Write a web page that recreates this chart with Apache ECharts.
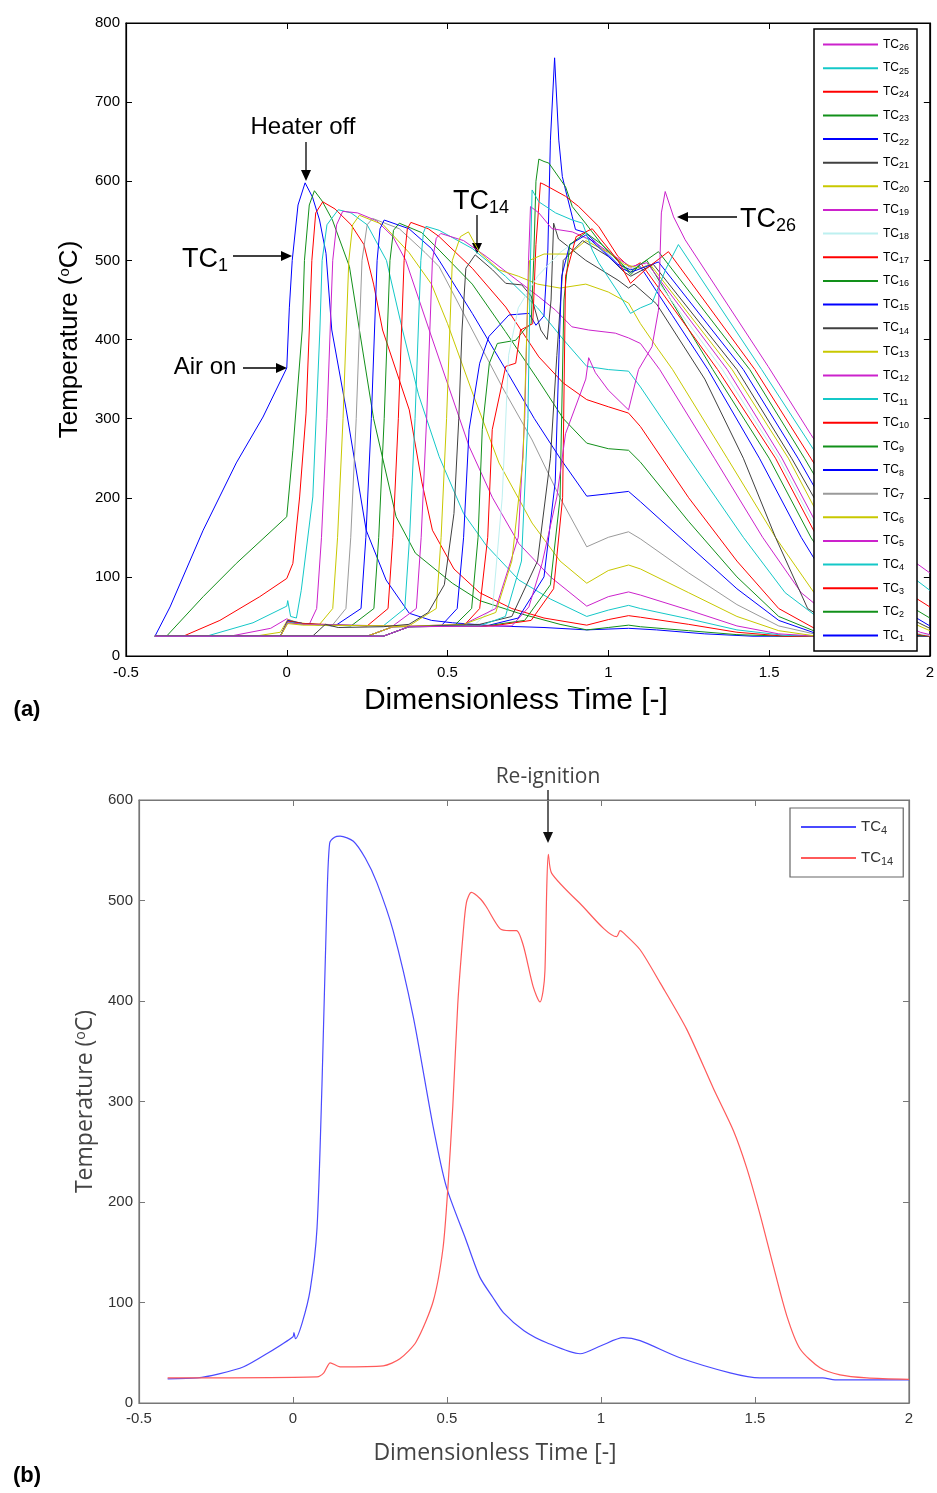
<!DOCTYPE html>
<html>
<head>
<meta charset="utf-8">
<script src="https://cdn.jsdelivr.net/npm/echarts@6/dist/echarts.min.js"></script>
<style>html,body{margin:0;padding:0;background:#fff}#main{width:937px;height:1493px}</style>
</head>
<body>
<div id="main"></div>
<script>
// (a) thermocouple traces, [dimensionless time, temperature]
var tc1 = [[-0.41,25],[-0.363,62],[-0.26,159],[-0.157,244],[-0.074,302],[0,364],[0.008,440],[0.017,500],[0.035,570],[0.057,598],[0.08,580],[0.102,551],[0.122,509],[0.14,412],[0.185,311],[0.247,159],[0.309,96],[0.381,54],[0.45,45],[0.515,42],[0.65,38],[0.8,36],[0.933,33],[1.063,35],[1.15,33],[1.3,28],[1.45,25],[2,25]];
var tc2 = [[-0.41,25],[-0.374,25],[-0.26,75],[-0.157,117],[0,176],[0.019,260],[0.048,412],[0.055,500],[0.07,570],[0.086,588],[0.11,575],[0.142,551],[0.195,492],[0.226,412],[0.27,300],[0.34,176],[0.4,130],[0.515,92],[0.6,70],[0.722,54],[0.85,40],[0.933,33],[1.0,36],[1.063,39],[1.1,37],[1.25,32],[1.4,27],[1.55,25],[2,25]];
var tc3 = [[-0.41,25],[-0.322,25],[-0.208,45],[-0.084,75],[0,98],[0.019,117],[0.04,201],[0.06,307],[0.07,412],[0.078,500],[0.09,560],[0.112,574],[0.15,565],[0.2,545],[0.24,520],[0.27,470],[0.298,412],[0.381,311],[0.42,220],[0.453,159],[0.52,110],[0.6,80],[0.7,60],[0.8,48],[0.933,39],[1.0,46],[1.063,51],[1.1,49],[1.25,40],[1.4,30],[1.55,25],[2,25]];
var tc4 = [[-0.41,25],[-0.25,25],[-0.105,42],[0,63],[0.003,70],[0.012,50],[0.03,48],[0.045,83],[0.081,201],[0.103,412],[0.11,500],[0.125,545],[0.16,564],[0.2,560],[0.25,545],[0.31,500],[0.36,412],[0.41,330],[0.474,252],[0.55,180],[0.62,140],[0.722,96],[0.82,72],[0.933,50],[1.0,58],[1.063,64],[1.1,60],[1.25,47],[1.4,33],[1.55,26],[1.7,25],[2,25]];
var tc5 = [[-0.41,25],[-0.177,25],[-0.05,35],[0,47],[0.03,42],[0.07,40],[0.093,60],[0.108,150],[0.125,300],[0.135,412],[0.143,500],[0.155,545],[0.174,562],[0.22,560],[0.28,550],[0.33,530],[0.37,500],[0.443,412],[0.567,265],[0.64,200],[0.722,142],[0.82,100],[0.933,63],[1.0,75],[1.063,81],[1.1,77],[1.25,58],[1.4,38],[1.53,28],[1.65,25],[2,25]];
var tc6 = [[-0.41,25],[-0.1,25],[-0.02,30],[0.003,46],[0.04,42],[0.1,39],[0.143,60],[0.158,150],[0.175,300],[0.185,412],[0.193,500],[0.205,545],[0.226,557],[0.3,545],[0.38,510],[0.45,470],[0.5,420],[0.58,330],[0.66,244],[0.763,168],[0.85,120],[0.933,92],[1.0,108],[1.063,115],[1.1,110],[1.25,80],[1.4,50],[1.53,32],[1.65,25],[2,25]];
var tc7 = [[-0.41,25],[-0.02,25],[0.003,45],[0.05,41],[0.14,38],[0.184,60],[0.199,150],[0.216,300],[0.226,412],[0.234,500],[0.25,545],[0.267,553],[0.35,540],[0.43,510],[0.474,492],[0.577,412],[0.67,340],[0.763,273],[0.85,200],[0.933,138],[1.0,150],[1.063,157],[1.1,148],[1.25,105],[1.4,65],[1.53,38],[1.65,27],[1.8,25],[2,25]];
var tc8 = [[-0.41,25],[-0.02,25],[0.003,45],[0.05,41],[0.15,38],[0.231,60],[0.246,150],[0.263,300],[0.273,412],[0.281,500],[0.29,540],[0.303,551],[0.38,540],[0.45,515],[0.474,500],[0.577,433],[0.681,362],[0.77,300],[0.85,250],[0.933,202],[1.0,205],[1.063,208],[1.1,195],[1.25,140],[1.4,85],[1.53,45],[1.65,28],[1.8,25],[2,25]];
var tc9 = [[-0.41,25],[-0.02,25],[0.003,44],[0.05,41],[0.2,38],[0.271,60],[0.286,150],[0.303,300],[0.313,412],[0.321,500],[0.332,538],[0.35,547],[0.42,535],[0.474,513],[0.577,470],[0.68,410],[0.78,350],[0.86,300],[0.933,269],[1.0,262],[1.063,260],[1.1,245],[1.25,170],[1.4,100],[1.53,50],[1.65,30],[1.8,25],[2,25]];
var tc10 = [[-0.41,25],[-0.02,25],[0.003,44],[0.05,41],[0.25,38],[0.315,60],[0.33,150],[0.347,300],[0.357,412],[0.365,500],[0.375,540],[0.386,548],[0.44,540],[0.474,530],[0.577,490],[0.681,441],[0.784,378],[0.86,345],[0.933,324],[1.0,315],[1.063,307],[1.1,290],[1.25,200],[1.4,120],[1.53,60],[1.65,33],[1.8,26],[2,25]];
var tc11 = [[-0.41,25],[-0.02,25],[0.003,43],[0.05,40],[0.3,38],[0.367,60],[0.382,150],[0.399,300],[0.409,412],[0.417,500],[0.425,535],[0.433,543],[0.474,538],[0.577,515],[0.68,480],[0.78,440],[0.86,400],[0.933,366],[1.0,362],[1.063,360],[1.1,340],[1.25,250],[1.42,150],[1.55,80],[1.68,40],[1.8,28],[2,25]];
var tc12 = [[-0.41,25],[-0.02,25],[0.003,42],[0.05,40],[0.33,38],[0.403,60],[0.418,150],[0.435,300],[0.445,412],[0.453,500],[0.465,528],[0.479,534],[0.55,525],[0.62,505],[0.7,480],[0.784,454],[0.836,437],[0.887,416],[0.939,412],[1.022,408],[1.063,402],[1.1,395],[1.16,362],[1.33,250],[1.48,150],[1.6,80],[1.72,40],[1.85,28],[2,25]];
var tc13 = [[-0.41,25],[-0.02,25],[0.003,41],[0.05,39],[0.38,38],[0.465,60],[0.48,150],[0.497,300],[0.507,412],[0.515,500],[0.54,530],[0.565,536],[0.6,510],[0.66,488],[0.72,480],[0.78,470],[0.85,465],[0.93,470],[1.0,460],[1.063,446],[1.1,420],[1.156,387],[1.2,362],[1.37,250],[1.52,150],[1.64,80],[1.76,40],[1.88,28],[2,25]];
var tc14 = [[-0.41,25],[0.08,25],[0.12,40],[0.16,36],[0.3,37],[0.38,40],[0.44,55],[0.49,90],[0.52,180],[0.535,300],[0.545,412],[0.557,490],[0.586,507],[0.64,488],[0.681,471],[0.731,469],[0.76,455],[0.79,412],[0.81,400],[0.822,450],[0.83,547],[0.845,527],[0.93,500],[1.03,475],[1.063,465],[1.08,470],[1.15,445],[1.3,350],[1.42,250],[1.52,150],[1.62,60],[1.72,35],[1.85,27],[2,25]];
var tc15 = [[-0.41,25],[0.25,25],[0.33,37],[0.48,38],[0.53,60],[0.55,150],[0.567,286],[0.6,370],[0.629,404],[0.691,431],[0.753,433],[0.775,418],[0.8,430],[0.812,513],[0.82,652],[0.833,756],[0.846,652],[0.857,606],[0.867,589],[0.888,555],[0.898,539],[0.93,535],[0.98,515],[1.03,495],[1.07,488],[1.1,492],[1.2,430],[1.31,362],[1.47,250],[1.6,150],[1.72,70],[1.82,38],[1.92,27],[2,25]];
var tc16 = [[-0.41,25],[0.25,25],[0.33,37],[0.52,38],[0.575,60],[0.595,150],[0.608,286],[0.63,370],[0.655,395],[0.712,399],[0.738,412],[0.76,420],[0.768,500],[0.775,600],[0.784,628],[0.8,625],[0.815,623],[0.867,593],[0.888,568],[0.929,547],[0.98,520],[1.04,495],[1.07,482],[1.1,495],[1.12,500],[1.325,362],[1.5,250],[1.63,150],[1.74,80],[1.85,40],[1.95,27],[2,25]];
var tc17 = [[-0.41,25],[0.25,25],[0.33,37],[0.55,38],[0.6,60],[0.625,150],[0.639,286],[0.681,366],[0.712,370],[0.727,412],[0.765,420],[0.775,520],[0.789,598],[0.8,596],[0.867,581],[0.908,568],[0.97,543],[1.03,505],[1.07,490],[1.1,497],[1.34,362],[1.52,250],[1.65,150],[1.76,80],[1.86,42],[1.96,28],[2,25]];
var tc18 = [[-0.41,25],[0.25,25],[0.33,37],[0.58,38],[0.64,60],[0.67,200],[0.69,380],[0.72,440],[0.78,480],[0.85,510],[0.92,530],[0.98,515],[1.04,495],[1.07,490],[1.11,497],[1.355,362],[1.53,250],[1.66,150],[1.77,80],[1.87,45],[1.97,28],[2,26]];
var tc19 = [[-0.41,25],[0.25,25],[0.33,37],[0.55,40],[0.65,60],[0.72,150],[0.74,300],[0.752,500],[0.758,568],[0.784,560],[0.825,540],[0.888,536],[0.95,525],[1.02,505],[1.07,492],[1.12,497],[1.37,362],[1.54,250],[1.67,150],[1.78,80],[1.88,48],[1.97,30],[2,27]];
var tc20 = [[-0.41,25],[0.25,25],[0.33,37],[0.55,40],[0.65,55],[0.7,120],[0.735,250],[0.748,430],[0.755,500],[0.8,508],[0.88,508],[0.93,525],[1.0,510],[1.05,495],[1.1,490],[1.13,495],[1.385,362],[1.56,250],[1.69,150],[1.8,85],[1.9,50],[2,32]];
var tc21 = [[-0.41,25],[0.3,25],[0.38,37],[0.6,40],[0.7,50],[0.78,120],[0.82,250],[0.84,380],[0.86,500],[0.92,525],[1.0,505],[1.05,485],[1.07,480],[1.14,495],[1.4,362],[1.57,250],[1.71,150],[1.81,90],[1.9,55],[2,35]];
var tc22 = [[-0.41,25],[0.3,25],[0.38,37],[0.62,38],[0.72,48],[0.8,100],[0.835,220],[0.848,400],[0.855,480],[0.88,520],[0.93,532],[1.0,505],[1.04,490],[1.07,485],[1.156,498],[1.42,362],[1.59,250],[1.73,150],[1.84,90],[1.93,55],[2,38]];
var tc23 = [[-0.41,25],[0.3,25],[0.38,37],[0.62,38],[0.74,45],[0.82,90],[0.85,200],[0.862,450],[0.88,520],[0.93,535],[0.98,520],[1.03,500],[1.069,485],[1.1,495],[1.156,511],[1.44,362],[1.61,250],[1.74,160],[1.85,100],[1.93,65],[2,48]];
var tc24 = [[-0.41,25],[0.3,25],[0.38,37],[0.64,38],[0.76,45],[0.83,85],[0.858,200],[0.867,480],[0.9,530],[0.95,540],[1.03,500],[1.069,471],[1.12,490],[1.187,511],[1.456,362],[1.63,250],[1.75,170],[1.86,110],[1.93,80],[2,62]];
var tc25 = [[-0.41,25],[0.3,25],[0.38,37],[0.6,38],[0.68,50],[0.73,120],[0.75,300],[0.758,500],[0.763,589],[0.784,574],[0.836,560],[0.888,551],[0.92,547],[0.95,513],[0.97,497],[1.03,460],[1.069,433],[1.1,440],[1.136,446],[1.18,490],[1.218,520],[1.477,362],[1.64,260],[1.77,180],[1.88,120],[2,83]];
var tc26 = [[-0.41,25],[0.3,25],[0.38,37],[0.7,38],[0.753,62],[0.794,117],[0.84,201],[0.867,281],[0.93,350],[0.939,377],[0.96,358],[1.0,336],[1.063,311],[1.094,362],[1.136,391],[1.156,437],[1.165,560],[1.177,587],[1.203,555],[1.239,526],[1.497,366],[1.63,280],[1.76,200],[1.88,140],[2,105]];

// (b) two selected thermocouples
var tc4b = [[-0.407,24],[-0.31,25],[-0.24,29],[-0.16,36],[-0.08,50],[0,66],[0.003,70],[0.008,64],[0.03,80],[0.056,113],[0.078,174],[0.094,316],[0.11,498],[0.119,557],[0.135,563],[0.153,564],[0.196,559],[0.235,542],[0.272,518],[0.325,470],[0.39,385],[0.455,275],[0.498,215],[0.562,162],[0.607,125],[0.649,105],[0.683,90],[0.75,72],[0.824,60],[0.932,49],[1.0,57],[1.072,65],[1.127,62],[1.256,45],[1.419,30],[1.516,25],[1.72,25],[1.76,23],[2.0,23]];
var tc14b = [[-0.407,25],[0.078,26],[0.1,30],[0.121,40],[0.153,36],[0.293,37],[0.347,44],[0.4,61],[0.455,101],[0.487,154],[0.503,215],[0.519,296],[0.535,397],[0.552,466],[0.563,498],[0.579,508],[0.607,502],[0.627,494],[0.672,472],[0.703,470],[0.726,470],[0.748,455],[0.78,414],[0.802,399],[0.812,410],[0.818,430],[0.824,514],[0.829,546],[0.84,527],[0.932,497],[1.051,464],[1.062,470],[1.072,468],[1.127,451],[1.192,418],[1.278,372],[1.365,313],[1.43,271],[1.473,234],[1.516,188],[1.559,137],[1.603,87],[1.646,54],[1.711,35],[1.776,28],[1.863,25],[2.0,23.5]];

var xTicksA = [-0.5, 2, 0.5];
var yTicksA = [0, 800, 100];
var yTicksB = [0, 600, 100];

var topCurves = [tc1, tc2, tc3, tc4, tc5, tc6, tc7, tc8, tc9, tc10, tc11, tc12, tc13,
  tc14, tc15, tc16, tc17, tc18, tc19, tc20, tc21, tc22, tc23, tc24, tc25, tc26];
var topNames = topCurves.map(function (d, i) { return 'TC' + (i + 1); });

var B = '#0000ff', G = '#12901a', R = '#ff0000', C = '#14c8c8', M = '#cc22cc', Y = '#c8c800', K = '#404040';
var topColors = [B, G, R, C, M, Y, '#9a9a9a', B, G, R, C, M, Y, K, B, G, R, '#bdf0f0', M, Y, K, B, G, R, C, M];

var narrow = '"Liberation Sans Narrow", "Liberation Sans", Arial, sans-serif';
var sans = '"Liberation Sans", Arial, sans-serif';
var open = '"Open Sans", sans-serif';

var chart = echarts.init(document.getElementById('main'));

var series = topCurves.map(function (d, i) {
  return {
    name: topNames[i], type: 'line', xAxisIndex: 0, yAxisIndex: 0,
    data: d, symbol: 'none', showSymbol: false, z: 2,
    itemStyle: { color: topColors[i] },
    lineStyle: { color: topColors[i], width: 1 }
  };
});
series.push({
  name: 'TC4(b)', type: 'line', xAxisIndex: 2, yAxisIndex: 2, data: tc4b,
  symbol: 'none', showSymbol: false, smooth: 0.25,
  itemStyle: { color: '#4a4aff' }, lineStyle: { color: '#4a4aff', width: 1.2 }
});
series.push({
  name: 'TC14(b)', type: 'line', xAxisIndex: 2, yAxisIndex: 2, data: tc14b,
  symbol: 'none', showSymbol: false, smooth: 0.25,
  itemStyle: { color: '#ff5a5a' }, lineStyle: { color: '#ff5a5a', width: 1.2 }
});

function subFmt(name) { return 'TC{s|' + name.replace(/\D/g, '') + '}'; }

function arrow(x1, y1, x2, y2, color) {
  var ang = Math.atan2(y2 - y1, x2 - x1), h = 11, w = 5;
  var bx = x2 - h * Math.cos(ang), by = y2 - h * Math.sin(ang);
  var ox = -Math.sin(ang) * w, oy = Math.cos(ang) * w;
  return [
    { type: 'line', shape: { x1: x1, y1: y1, x2: bx, y2: by }, style: { stroke: color, lineWidth: 1.3 } },
    { type: 'polygon', shape: { points: [[x2, y2], [bx + ox, by + oy], [bx - ox, by - oy]] }, style: { fill: color } }
  ];
}
function label(x, y, text, size, extra) {
  var st = { text: text, fontSize: size, fontFamily: sans, fill: '#000', align: 'center', verticalAlign: 'middle' };
  if (extra) for (var k in extra) st[k] = extra[k];
  return { type: 'text', x: x, y: y, style: st, z: 10 };
}
var subRich = { s: { fontSize: 18, lineHeight: 18, padding: [13, 0, 0, 0], fontFamily: sans } };

var graphics = [
  label(303, 127, 'Heater off', 24),
  label(205, 260, 'TC{s|1}', 27, { rich: subRich }),
  label(205, 367, 'Air on', 24),
  label(481, 202, 'TC{s|14}', 27, { rich: subRich }),
  label(768, 220, 'TC{s|26}', 27, { rich: subRich }),
  label(548, 777, 'Re-ignition', 21, { fill: '#444', fontFamily: open }),
  label(27, 710, '(a)', 22, { fontWeight: 'bold' }),
  label(27, 1476, '(b)', 22, { fontWeight: 'bold' })
].concat(
  arrow(306, 142, 306, 181, '#000'),
  arrow(233, 256, 292, 256, '#000'),
  arrow(243, 368, 287, 368, '#000'),
  arrow(477, 215, 477, 254, '#000'),
  arrow(737, 217, 677, 217, '#000'),
  arrow(548, 790, 548, 843, '#111')
);

function frameAxis(grid, pos, range, color) {
  return {
    type: 'value', gridIndex: grid, position: pos, min: range[0], max: range[1], interval: range[2],
    axisLine: { show: true, onZero: false, lineStyle: { color: color, width: 1.2 } },
    axisTick: { show: true, inside: true, length: 6, lineStyle: { color: color } },
    axisLabel: { show: false }, splitLine: { show: false }
  };
}

var option = {
  animation: false,
  backgroundColor: '#fff',
  grid: [
    { left: 126, top: 23, width: 806, height: 633, show: true, borderColor: '#000', borderWidth: 1.2 },
    { left: 139, top: 800, width: 770, height: 603, show: true, borderColor: '#777', borderWidth: 1.2 }
  ],
  xAxis: [
    {
      type: 'value', gridIndex: 0, min: xTicksA[0], max: xTicksA[1], interval: xTicksA[2],
      axisLine: { onZero: false, lineStyle: { color: '#000', width: 1.2 } },
      axisTick: { inside: true, length: 6, lineStyle: { color: '#000' } },
      axisLabel: { color: '#000', fontSize: 15, fontFamily: narrow, margin: 9 },
      splitLine: { show: false },
      name: 'Dimensionless Time [-]', nameLocation: 'middle', nameGap: 30,
      nameTextStyle: { fontSize: 30, fontFamily: sans, color: '#000', padding: [0, 24, 0, 0] }
    },
    frameAxis(0, 'top', xTicksA, '#000'),
    {
      type: 'value', gridIndex: 1, min: xTicksA[0], max: xTicksA[1], interval: xTicksA[2],
      axisLine: { onZero: false, lineStyle: { color: '#777', width: 1.2 } },
      axisTick: { inside: true, length: 6, lineStyle: { color: '#777' } },
      axisLabel: { color: '#333', fontSize: 15, fontFamily: sans, margin: 8 },
      splitLine: { show: false },
      name: 'Dimensionless Time [-]', nameLocation: 'middle', nameGap: 39,
      nameTextStyle: { fontSize: 23, fontFamily: open, color: '#444', padding: [0, 58, 0, 0] }
    },
    frameAxis(1, 'top', xTicksA, '#777')
  ],
  yAxis: [
    {
      type: 'value', gridIndex: 0, min: yTicksA[0], max: yTicksA[1], interval: yTicksA[2],
      axisLine: { onZero: false, lineStyle: { color: '#000', width: 1.2 } },
      axisTick: { inside: true, length: 6, lineStyle: { color: '#000' } },
      axisLabel: { color: '#000', fontSize: 15, fontFamily: narrow, margin: 6 },
      splitLine: { show: false },
      name: 'Temperature ({sup|o}C)', nameLocation: 'middle', nameGap: 43, nameRotate: 90,
      nameTextStyle: { fontSize: 26, fontFamily: sans, color: '#000',
        rich: { sup: { fontSize: 15, verticalAlign: 'top', lineHeight: 16, fontFamily: sans } } }
    },
    frameAxis(0, 'right', yTicksA, '#000'),
    {
      type: 'value', gridIndex: 1, min: yTicksB[0], max: yTicksB[1], interval: yTicksB[2],
      axisLine: { onZero: false, lineStyle: { color: '#777', width: 1.2 } },
      axisTick: { inside: true, length: 6, lineStyle: { color: '#777' } },
      axisLabel: { color: '#333', fontSize: 15, fontFamily: sans, margin: 6 },
      splitLine: { show: false },
      name: 'Temperature ({sup|o}C)', nameLocation: 'middle', nameGap: 41, nameRotate: 90,
      nameTextStyle: { fontSize: 23, fontFamily: open, color: '#444',
        rich: { sup: { fontSize: 14, verticalAlign: 'top', lineHeight: 14, fontFamily: open } } }
    },
    frameAxis(1, 'right', yTicksB, '#777')
  ],
  legend: [
    {
      data: topNames.slice().reverse(), orient: 'vertical', left: 814, top: 29,
      padding: [8, 8, 8, 8], itemWidth: 55, itemHeight: 14, itemGap: 8.64,
      borderColor: '#000', borderWidth: 1.5, backgroundColor: '#fff', selectedMode: false, z: 5,
      itemStyle: { opacity: 0 },
      formatter: subFmt,
      textStyle: { fontSize: 12, lineHeight: 14, color: '#000', fontFamily: sans,
        rich: { s: { fontSize: 9, lineHeight: 10, padding: [6, 0, 0, 0], fontFamily: sans, color: '#000' } } }
    },
    {
      data: ['TC4(b)', 'TC14(b)'], orient: 'vertical', left: 790, top: 808,
      padding: [10, 10, 10, 10], itemWidth: 55, itemHeight: 16, itemGap: 13,
      borderColor: '#666', borderWidth: 1.2, backgroundColor: '#fff', selectedMode: false, z: 5,
      itemStyle: { opacity: 0 },
      formatter: subFmt,
      textStyle: { fontSize: 15, lineHeight: 16, color: '#333', fontFamily: sans,
        rich: { s: { fontSize: 11, lineHeight: 11, padding: [7, 0, 0, 0], fontFamily: sans, color: '#333' } } }
    }
  ],
  series: series,
  graphic: graphics
};

chart.setOption(option);
</script>
</body>
</html>
